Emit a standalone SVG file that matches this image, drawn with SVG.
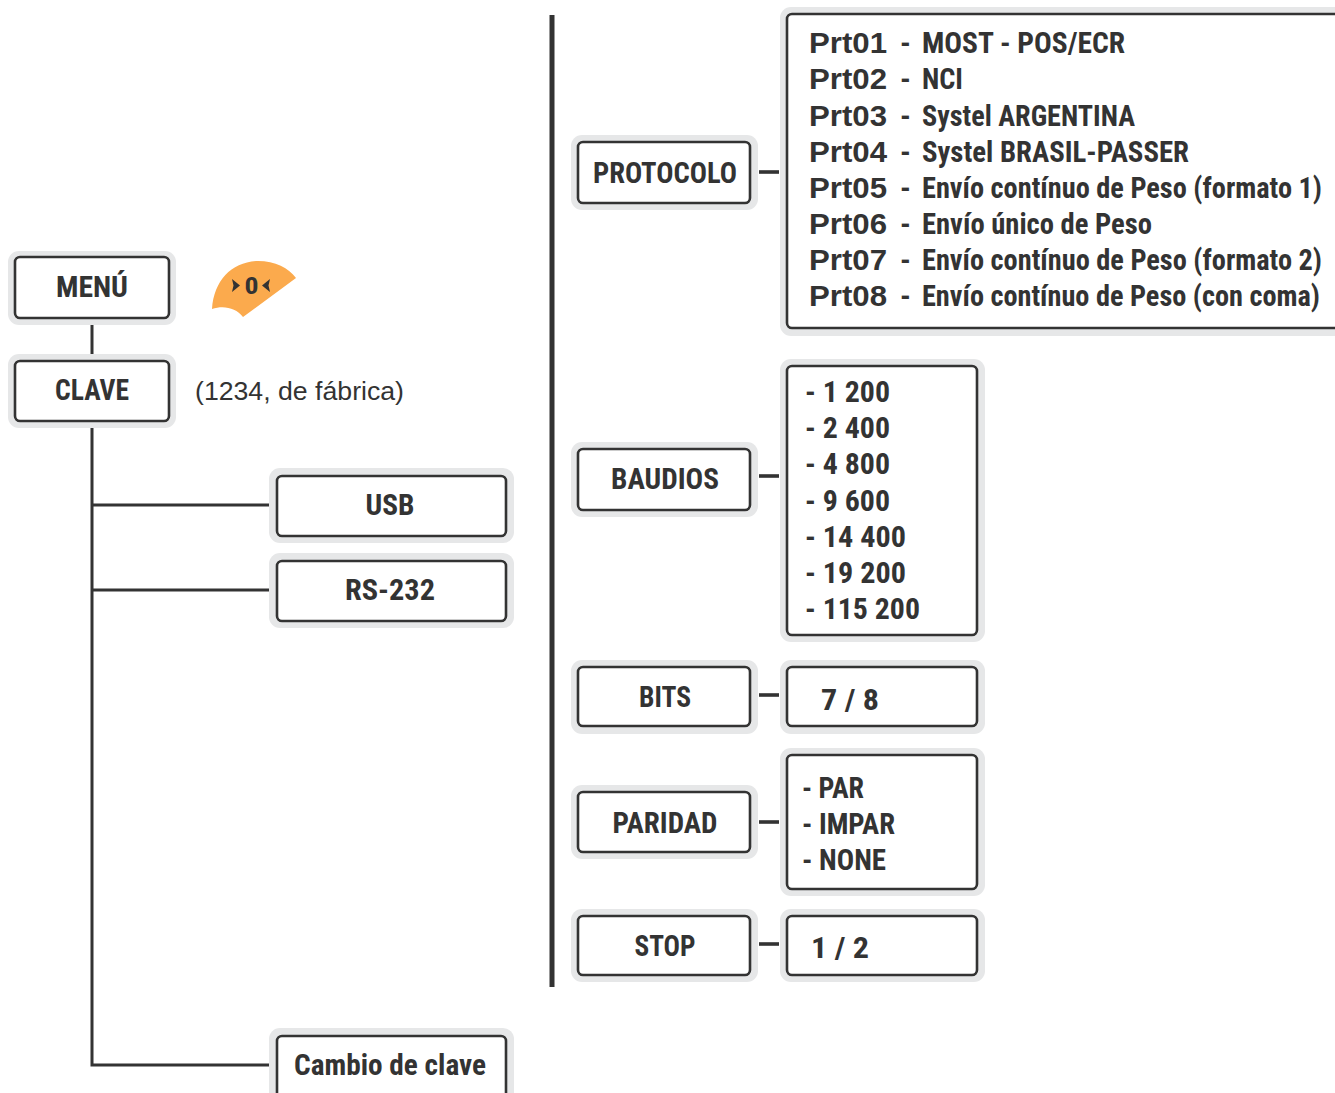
<svg xmlns="http://www.w3.org/2000/svg" width="1335" height="1093" viewBox="0 0 1335 1093">
<style>
.halo{fill:#e6e7e8;}
.box{fill:#fff;stroke:#333;stroke-width:2.6;}
.t{font-family:"Liberation Sans Narrow","Roboto Condensed","Liberation Sans",sans-serif;font-size:30px;font-weight:bold;fill:#333;}
.c{text-anchor:middle;}
.b{font-family:"Liberation Sans",Arial,sans-serif;font-weight:bold;font-size:29px;fill:#333;}
.ar{font-family:"Liberation Sans",Arial,sans-serif;font-size:25px;fill:#333;}
.ln{stroke:#333;stroke-width:3;fill:none;}
.dash{stroke:#333;stroke-width:3.6;}
</style>
<rect width="1335" height="1093" fill="#fff"/>
<g id="connectors">
<line class="ln" x1="92" y1="318" x2="92" y2="361"/>
<polyline class="ln" points="92,421 92,1065 272,1065"/>
<line class="ln" x1="92" y1="505" x2="272" y2="505"/>
<line class="ln" x1="92" y1="590" x2="272" y2="590"/>
<line class="dash" x1="759" y1="172" x2="779" y2="172"/>
<line class="dash" x1="759" y1="476" x2="779" y2="476"/>
<line class="dash" x1="759" y1="695" x2="779" y2="695"/>
<line class="dash" x1="759" y1="822" x2="779" y2="822"/>
<line class="dash" x1="759" y1="944" x2="779" y2="944"/>
<line x1="552" y1="15" x2="552" y2="987" stroke="#333" stroke-width="5"/>
</g>
<g id="menu">
<rect class="halo" x="8" y="251" width="168" height="74" rx="11"/>
<rect class="box" x="15" y="257" width="154" height="61" rx="5"/>
<text class="t c" x="92" y="297" textLength="72" lengthAdjust="spacingAndGlyphs">MENÚ</text>
</g>
<g id="zero-key">
<path d="M212,309 C214,280 232,262 258,261 C275,261 289,268 296,278 L243,317 C236,308 224,305 212,309 Z" fill="#fbaa4d"/>
<polygon points="232,279 240,285.5 232,292 233.5,285.5" fill="#333"/>
<polygon points="270,279 262,285.5 270,292 268.5,285.5" fill="#333"/>
<text x="251.5" y="294" text-anchor="middle" font-family="Liberation Sans Narrow,Roboto Condensed,Liberation Sans,sans-serif" font-weight="bold" font-size="23" fill="#333" textLength="14" lengthAdjust="spacingAndGlyphs">0</text>
</g>
<g id="clave">
<rect class="halo" x="8" y="354" width="168" height="74" rx="11"/>
<rect class="box" x="15" y="361" width="154" height="60" rx="5"/>
<text class="t c" x="92" y="400" textLength="74" lengthAdjust="spacingAndGlyphs">CLAVE</text>
<text class="ar" x="195" y="400" textLength="209" lengthAdjust="spacingAndGlyphs">(1234, de fábrica)</text>
</g>
<g id="usb">
<rect class="halo" x="269" y="468" width="245" height="75" rx="11"/>
<rect class="box" x="277" y="476" width="229" height="60" rx="5"/>
<text class="t c" x="390" y="515" textLength="49" lengthAdjust="spacingAndGlyphs">USB</text>
</g>
<g id="rs232">
<rect class="halo" x="269" y="553" width="245" height="75" rx="11"/>
<rect class="box" x="277" y="561" width="229" height="60" rx="5"/>
<text class="t c" x="390" y="600" textLength="90" lengthAdjust="spacingAndGlyphs">RS-232</text>
</g>
<g id="cambio">
<rect class="halo" x="269" y="1028" width="245" height="80" rx="11"/>
<rect class="box" x="277" y="1036" width="229" height="70" rx="5"/>
<text class="t c" x="390" y="1075" textLength="192" lengthAdjust="spacingAndGlyphs">Cambio de clave</text>
</g>
<g id="protocolo">
<rect class="halo" x="571" y="135" width="187" height="75" rx="11"/>
<rect class="box" x="578" y="142" width="172" height="61" rx="5"/>
<text class="t c" x="665" y="183" textLength="144" lengthAdjust="spacingAndGlyphs">PROTOCOLO</text>
</g>
<g id="protocolo-list">
<rect class="halo" x="780" y="7" width="570" height="329" rx="11"/>
<rect class="box" x="787" y="14" width="560" height="314" rx="5"/>
<text class="b" x="809" y="53" textLength="78" lengthAdjust="spacingAndGlyphs">Prt01</text>
<text class="b" x="809" y="89" textLength="78" lengthAdjust="spacingAndGlyphs">Prt02</text>
<text class="b" x="809" y="126" textLength="78" lengthAdjust="spacingAndGlyphs">Prt03</text>
<text class="b" x="809" y="162" textLength="78" lengthAdjust="spacingAndGlyphs">Prt04</text>
<text class="b" x="809" y="198" textLength="78" lengthAdjust="spacingAndGlyphs">Prt05</text>
<text class="b" x="809" y="234" textLength="78" lengthAdjust="spacingAndGlyphs">Prt06</text>
<text class="b" x="809" y="270" textLength="78" lengthAdjust="spacingAndGlyphs">Prt07</text>
<text class="b" x="809" y="306" textLength="78" lengthAdjust="spacingAndGlyphs">Prt08</text>
<g class="t">
<text x="900" y="53">-</text><text x="900" y="89">-</text><text x="900" y="126">-</text><text x="900" y="162">-</text>
<text x="900" y="198">-</text><text x="900" y="234">-</text><text x="900" y="270">-</text><text x="900" y="306">-</text>
<text x="922" y="53" textLength="203" lengthAdjust="spacingAndGlyphs">MOST - POS/ECR</text>
<text x="922" y="89" textLength="41" lengthAdjust="spacingAndGlyphs">NCI</text>
<text x="922" y="126" textLength="213" lengthAdjust="spacingAndGlyphs">Systel ARGENTINA</text>
<text x="922" y="162" textLength="267" lengthAdjust="spacingAndGlyphs">Systel BRASIL-PASSER</text>
<text x="922" y="198" textLength="400" lengthAdjust="spacingAndGlyphs">Envío contínuo de Peso (formato 1)</text>
<text x="922" y="234" textLength="230" lengthAdjust="spacingAndGlyphs">Envío único de Peso</text>
<text x="922" y="270" textLength="400" lengthAdjust="spacingAndGlyphs">Envío contínuo de Peso (formato 2)</text>
<text x="922" y="306" textLength="398" lengthAdjust="spacingAndGlyphs">Envío contínuo de Peso (con coma)</text>
</g>
</g>
<g id="baudios">
<rect class="halo" x="571" y="442" width="187" height="75" rx="11"/>
<rect class="box" x="578" y="449" width="172" height="61" rx="5"/>
<text class="t c" x="665" y="489" textLength="108" lengthAdjust="spacingAndGlyphs">BAUDIOS</text>
</g>
<g id="baudios-list">
<rect class="halo" x="780" y="359" width="205" height="283" rx="11"/>
<rect class="box" x="787" y="366" width="190" height="269" rx="5"/>
<g class="t">
<text x="805" y="402" textLength="85" lengthAdjust="spacingAndGlyphs">- 1 200</text>
<text x="805" y="438" textLength="85" lengthAdjust="spacingAndGlyphs">- 2 400</text>
<text x="805" y="474" textLength="85" lengthAdjust="spacingAndGlyphs">- 4 800</text>
<text x="805" y="511" textLength="85" lengthAdjust="spacingAndGlyphs">- 9 600</text>
<text x="805" y="547" textLength="101" lengthAdjust="spacingAndGlyphs">- 14 400</text>
<text x="805" y="583" textLength="101" lengthAdjust="spacingAndGlyphs">- 19 200</text>
<text x="805" y="619" textLength="115" lengthAdjust="spacingAndGlyphs">- 115 200</text>
</g>
</g>
<g id="bits">
<rect class="halo" x="571" y="660" width="187" height="74" rx="11"/>
<rect class="box" x="578" y="667" width="172" height="59" rx="5"/>
<text class="t c" x="665" y="707" textLength="52" lengthAdjust="spacingAndGlyphs">BITS</text>
</g>
<g id="bits-value">
<rect class="halo" x="780" y="660" width="205" height="74" rx="11"/>
<rect class="box" x="787" y="667" width="190" height="59" rx="5"/>
<text class="t" x="821" y="710" textLength="58" lengthAdjust="spacingAndGlyphs">7 / 8</text>
</g>
<g id="paridad">
<rect class="halo" x="571" y="785" width="187" height="74" rx="11"/>
<rect class="box" x="578" y="792" width="172" height="60" rx="5"/>
<text class="t c" x="665" y="833" textLength="105" lengthAdjust="spacingAndGlyphs">PARIDAD</text>
</g>
<g id="paridad-list">
<rect class="halo" x="780" y="748" width="205" height="148" rx="11"/>
<rect class="box" x="787" y="755" width="190" height="134" rx="5"/>
<g class="t">
<text x="802" y="798" textLength="62" lengthAdjust="spacingAndGlyphs">- PAR</text>
<text x="802" y="834" textLength="93" lengthAdjust="spacingAndGlyphs">- IMPAR</text>
<text x="802" y="870" textLength="84" lengthAdjust="spacingAndGlyphs">- NONE</text>
</g>
</g>
<g id="stop">
<rect class="halo" x="571" y="909" width="187" height="73" rx="11"/>
<rect class="box" x="578" y="916" width="172" height="59" rx="5"/>
<text class="t c" x="665" y="956" textLength="61" lengthAdjust="spacingAndGlyphs">STOP</text>
</g>
<g id="stop-value">
<rect class="halo" x="780" y="909" width="205" height="73" rx="11"/>
<rect class="box" x="787" y="916" width="190" height="59" rx="5"/>
<text class="t" x="811" y="958" textLength="58" lengthAdjust="spacingAndGlyphs">1 / 2</text>
</g>
</svg>
